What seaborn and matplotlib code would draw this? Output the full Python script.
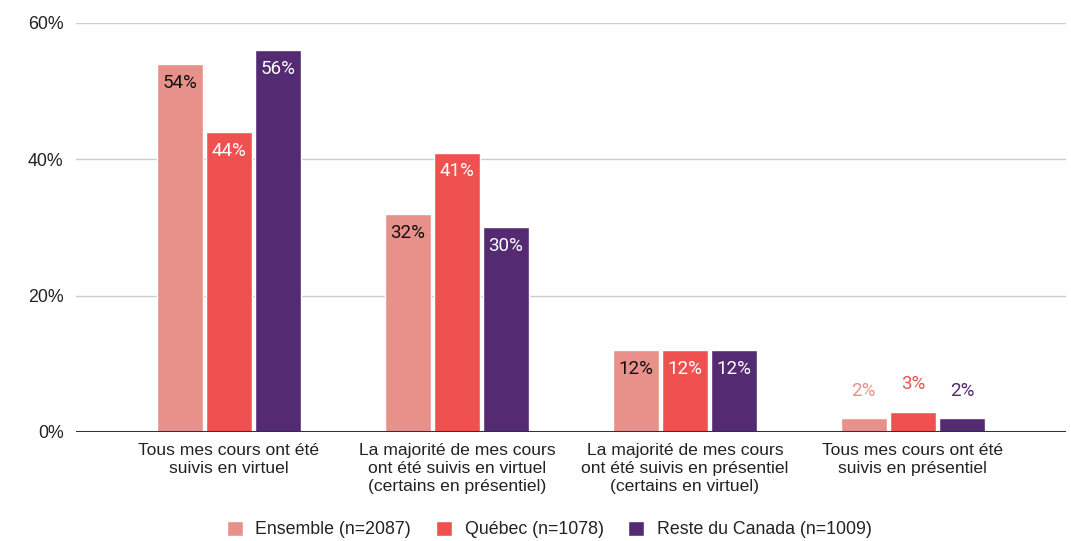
import matplotlib
matplotlib.use("Agg")
import matplotlib.pyplot as plt
import seaborn as sns
import pandas as pd

categories = ["Tous mes cours ont été\nsuivis en virtuel",
              "La majorité de mes cours\nont été suivis en virtuel\n(certains en présentiel)",
              "La majorité de mes cours\nont été suivis en présentiel\n(certains en virtuel)",
              "Tous mes cours ont été\nsuivis en présentiel"]
series = ["Ensemble (n=2087)", "Québec (n=1078)", "Reste du Canada (n=1009)"]
ensemble = [54, 32, 12, 2]
quebec = [44, 41, 12, 3]
reste = [56, 30, 12, 2]
colors = ["#E8918A", "#EE5150", "#542A73"]
label_colors = ["#111111", "#FFFFFF", "#FFFFFF"]

rows = []
for s, vals in zip(series, [ensemble, quebec, reste]):
    for c, v in zip(categories, vals):
        rows.append({"cat": c, "series": s, "val": v})
df = pd.DataFrame(rows)

sns.set_theme(style="white")
plt.rcParams['font.family'] = ['Liberation Sans', 'DejaVu Sans']

fig = plt.figure(figsize=(10.71, 5.41), dpi=100)
ax = fig.add_axes([0.071, 0.2015, 0.924, 0.756])
sns.barplot(data=df, x="cat", y="val", hue="series", palette=colors,
            width=0.645, gap=0.06, ax=ax, saturation=1, legend=True)

ax.set_ylim(0, 60)
ax.set_xlim(-0.67, 3.67)
ax.set_yticks([0, 20, 40, 60])
ax.set_yticklabels(["0%", "20%", "40%", "60%"], fontsize=12.8, color="#222222")
ax.tick_params(axis="x", labelsize=12.6, colors="#222222", length=0, pad=8)
for t in ax.get_xticklabels():
    t.set_linespacing(1.25)
ax.tick_params(axis="y", length=0, pad=9)
ax.set_xlabel("")
ax.set_ylabel("")
for sp in ax.spines.values():
    sp.set_visible(False)
for y in [20, 40, 60]:
    ax.axhline(y, color="#CCCCCC", lw=1, zorder=0)
ax.axhline(0, color="#333333", lw=1.5, zorder=3)

for i, cont in enumerate(ax.containers):
    for bar, v in zip(cont, [ensemble, quebec, reste][i]):
        x = bar.get_x() + bar.get_width() / 2
        if v >= 10:
            ax.annotate(f"{v}%", (x, v), xytext=(0, -7), textcoords="offset points",
                        ha="center", va="top", fontsize=13.5,
                        color=label_colors[i], family=["Roboto", "DejaVu Sans"])
        else:
            ax.annotate(f"{v}%", (x, v), xytext=(0, 20), textcoords="offset points",
                        ha="center", va="center", fontsize=13.5,
                        color=colors[i], family=["Roboto", "DejaVu Sans"])

handles, labels = ax.get_legend_handles_labels()
ax.legend_.remove()
leg = fig.legend(handles, labels, loc="center", bbox_to_anchor=(0.513, 0.021), ncol=3,
                 frameon=False, fontsize=12.8, handlelength=0.9, handleheight=0.9,
                 handletextpad=0.7, columnspacing=1.4)
for t in leg.get_texts():
    t.set_color("#222222")

fig.savefig("out.png", dpi=100)
